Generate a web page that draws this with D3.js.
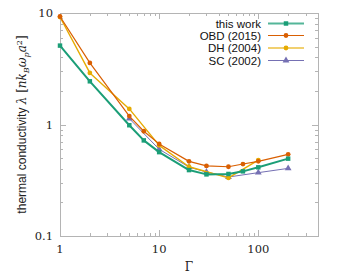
<!DOCTYPE html>
<html>
<head>
<meta charset="utf-8">
<script src="https://cdn.jsdelivr.net/npm/d3@7"></script>
<style>
  body { margin: 0; background: #fff; }
  svg { display: block; }
</style>
</head>
<body>
<svg class="chart" width="341" height="276"></svg>
<script>
// values
var gammaThis = [1, 2, 5, 7, 10, 20, 30, 50, 70, 100, 200];
var lambdaThis = [5.1, 2.44, 0.985, 0.72, 0.565, 0.39, 0.357, 0.36, 0.38, 0.413, 0.494];

var gammaOBD = [1, 2, 5, 7, 10, 20, 30, 50, 70, 100, 200];
var lambdaOBD = [9.3, 3.57, 1.19, 0.87, 0.67, 0.467, 0.425, 0.418, 0.442, 0.467, 0.54];

var gammaDH = [1, 2, 5, 10, 20, 50, 100];
var lambdaDH = [9.2, 2.9, 1.38, 0.65, 0.418, 0.332, 0.48];

var gammaSC = [5, 10, 20, 30, 50, 100, 200];
var lambdaSC = [1.13, 0.6, 0.415, 0.375, 0.338, 0.37, 0.404];

var seriesNames = ["this work", "OBD (2015)", "DH (2004)", "SC (2002)"];
var xTickValues = [1, 10, 100];
var yTickValues = [0.1, 1, 10];
var yTickLabels = ["0.1", "1", "10"];

var svg = d3.select(".chart");

// note: "top" is taken by window.top, so plot edges get their own names
var plotLeft = 60, plotRight = 318, plotTop = 13, plotBottom = 236;

var x = d3.scaleLog().domain([1, 400]).range([plotLeft, plotRight]);
var y = d3.scaleLog().domain([0.1, 10]).range([plotBottom, plotTop]);

var frameColor = "#b4b4b4";

// minor + major ticks on all four sides
function logTicks(lo, hi) {
  var out = [];
  for (var e = Math.floor(Math.log10(lo)); e <= Math.ceil(Math.log10(hi)); e++) {
    for (var m = 1; m < 10; m++) {
      var v = m * Math.pow(10, e);
      if (v >= lo * 0.999 && v <= hi * 1.001) out.push({v: v, major: m == 1});
    }
  }
  return out;
}

var tickG = svg.append("g").attr("stroke", frameColor).attr("stroke-width", 1);

logTicks(1, 400).forEach(function(t) {
  var px = Math.round(x(t.v)) + 0.5;
  var len = t.major ? 6 : 3;
  tickG.append("line").attr("x1", px).attr("x2", px).attr("y1", plotBottom).attr("y2", plotBottom - len);
  tickG.append("line").attr("x1", px).attr("x2", px).attr("y1", plotTop).attr("y2", plotTop + len);
});
logTicks(0.1, 10).forEach(function(t) {
  var py = Math.round(y(t.v)) + 0.5;
  var len = t.major ? 6 : 3;
  tickG.append("line").attr("y1", py).attr("y2", py).attr("x1", plotLeft).attr("x2", plotLeft + len);
  tickG.append("line").attr("y1", py).attr("y2", py).attr("x1", plotRight).attr("x2", plotRight - len);
});

svg.append("rect")
  .attr("x", plotLeft + 0.5).attr("y", plotTop + 0.5)
  .attr("width", plotRight - plotLeft).attr("height", plotBottom - plotTop)
  .attr("fill", "none").attr("stroke", frameColor).attr("stroke-width", 1);

// tick labels
svg.append("g").selectAll("text")
  .data(xTickValues)
  .enter().append("text")
  .attr("x", function(d) { return x(d); })
  .attr("y", plotBottom + 17)
  .attr("text-anchor", "middle")
  .style("font-family", "'DejaVu Serif', serif")
  .style("font-size", "11.5px")
  .style("fill", "#222")
  .text(function(d) { return d; });

svg.append("g").selectAll("text")
  .data(yTickValues)
  .enter().append("text")
  .attr("x", plotLeft - 7)
  .attr("y", function(d) { return y(d) + 4; })
  .attr("text-anchor", "end")
  .style("font-family", "'DejaVu Serif', serif")
  .style("font-size", "11.5px")
  .style("fill", "#222")
  .text(function(d, i) { return yTickLabels[i]; });

// axis titles
svg.append("text")
  .attr("x", (plotLeft + plotRight) / 2)
  .attr("y", 271)
  .attr("text-anchor", "middle")
  .style("font-family", "'DejaVu Serif', serif")
  .style("font-size", "12px")
  .style("fill", "#222")
  .text("Γ");

var ylab = svg.append("text")
  .attr("transform", "translate(26," + ((plotTop + plotBottom) / 2) + ") rotate(-90)")
  .attr("text-anchor", "middle")
  .style("font-family", "'Liberation Sans', Arial, sans-serif")
  .style("font-size", "12px")
  .style("fill", "#222");
ylab.append("tspan").text("thermal conductivity ");
ylab.append("tspan").style("font-family", "'DejaVu Serif', serif").style("font-style", "italic").text("λ");
ylab.append("tspan").style("font-family", "'DejaVu Serif', serif").text(" [");
ylab.append("tspan").style("font-family", "'DejaVu Serif', serif").style("font-style", "italic").text("nk");
ylab.append("tspan").style("font-family", "'DejaVu Serif', serif").style("font-style", "italic").style("font-size", "8px").attr("dy", 2.5).text("B");
ylab.append("tspan").style("font-family", "'DejaVu Serif', serif").style("font-style", "italic").attr("dy", -2.5).text("ω");
ylab.append("tspan").style("font-family", "'DejaVu Serif', serif").style("font-style", "italic").style("font-size", "8px").attr("dy", 2.5).text("p");
ylab.append("tspan").style("font-family", "'DejaVu Serif', serif").style("font-style", "italic").attr("dy", -2.5).text("a");
ylab.append("tspan").style("font-family", "'DejaVu Serif', serif").style("font-size", "8px").attr("dy", -4).text("2");
ylab.append("tspan").style("font-family", "'DejaVu Serif', serif").attr("dy", 4).text("]");

// series
var series = [
  {name: seriesNames[0], g: gammaThis, v: lambdaThis, color: "#1b9e77", width: 2, marker: "square"},
  {name: seriesNames[1], g: gammaOBD, v: lambdaOBD, color: "#d95f02", width: 1.2, marker: "circle"},
  {name: seriesNames[2], g: gammaDH, v: lambdaDH, color: "#e6ab02", width: 1.4, marker: "circle"},
  {name: seriesNames[3], g: gammaSC, v: lambdaSC, color: "#7570b3", width: 1, marker: "triangle"}
];

var line = d3.line()
  .x(function(d) { return x(d[0]); })
  .y(function(d) { return y(d[1]); });

function markerPath(kind) {
  if (kind == "square") return d3.symbol().type(d3.symbolSquare).size(20)();
  if (kind == "triangle") return d3.symbol().type(d3.symbolTriangle).size(20)();
  return d3.symbol().type(d3.symbolCircle).size(18)();
}

// draw in reverse so "this work" ends on top
series.slice().reverse().forEach(function(s) {
  var pts = s.g.map(function(g, i) { return [g, s.v[i]]; });
  var g = svg.append("g");
  g.append("path")
    .datum(pts)
    .attr("d", line)
    .attr("fill", "none")
    .attr("stroke", s.color)
    .attr("stroke-width", s.width)
    .attr("stroke-linejoin", "round");
  g.selectAll("path.m")
    .data(pts)
    .enter().append("path")
    .attr("class", "m")
    .attr("transform", function(d) { return "translate(" + x(d[0]) + "," + y(d[1]) + ")"; })
    .attr("d", markerPath(s.marker))
    .attr("fill", s.color);
});

// legend
var legendRows = [23.5, 35.5, 48, 60.5];
var leg = svg.append("g");
series.forEach(function(s, i) {
  var ly = legendRows[i];
  leg.append("text")
    .attr("x", 261)
    .attr("y", ly + 4)
    .attr("text-anchor", "end")
    .style("font-family", "'Liberation Sans', Arial, sans-serif")
    .style("font-size", "11.5px")
    .style("fill", "#111")
    .text(s.name);
  leg.append("line")
    .attr("x1", 268).attr("x2", 304)
    .attr("y1", ly).attr("y2", ly)
    .attr("stroke", s.color)
    .attr("stroke-width", s.width)
    .attr("stroke-opacity", s.width > 1.2 ? 0.75 : 1);
  leg.append("path")
    .attr("transform", "translate(286," + ly + ")")
    .attr("d", markerPath(s.marker))
    .attr("fill", s.color);
});
</script>
</body>
</html>
